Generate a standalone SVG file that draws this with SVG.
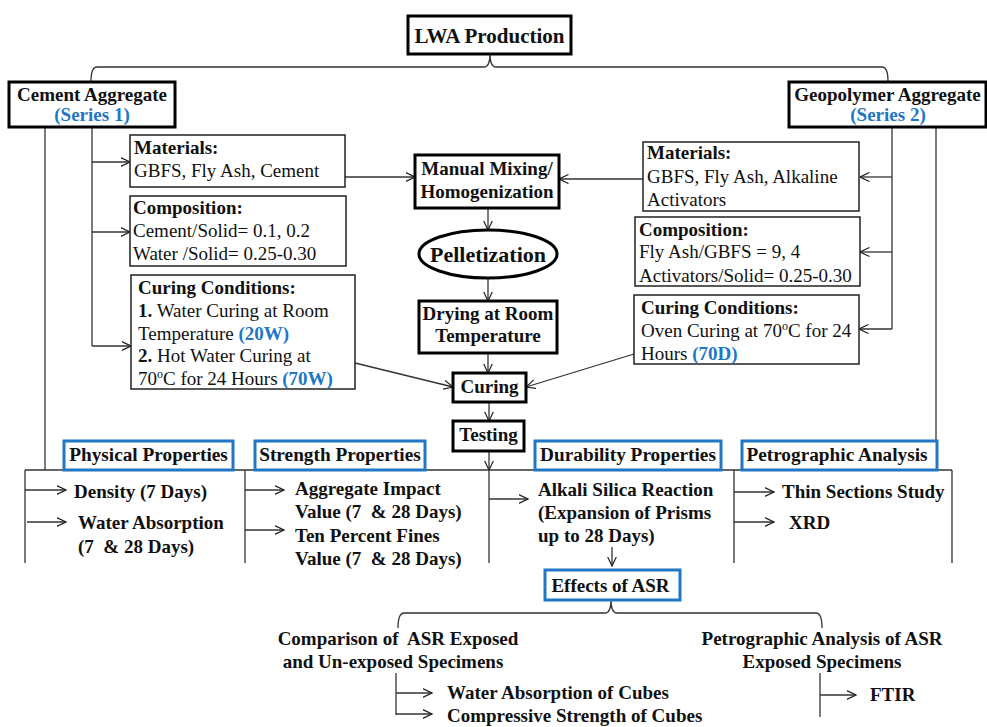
<svg xmlns="http://www.w3.org/2000/svg" width="987" height="727" viewBox="0 0 987 727">
<style>
text{font-family:"Liberation Serif","Times New Roman",serif;fill:#111;}
.b{font-weight:bold;font-size:19px;}
.r{font-size:19px;}
.h{font-weight:bold;font-size:19px;}
.hd{font-weight:bold;font-size:19.3px;text-anchor:middle;}
.c{text-anchor:middle;}
.bl{fill:#1f77c5;font-weight:bold;}
.thick{fill:#fff;stroke:#000;stroke-width:3;}
.thin{fill:#fff;stroke:#222;stroke-width:1.5;}
.bbox{fill:#fff;stroke:#1f77c5;stroke-width:3;}
.ln{fill:none;stroke:#333;stroke-width:1.3;}
.ar{marker-end:url(#ah);}
</style>
<defs>
<marker id="ah" viewBox="0 0 10 10" refX="9.5" refY="5" markerWidth="10" markerHeight="10" markerUnits="userSpaceOnUse" orient="auto">
<path d="M0,0.5 L9.5,5 L0,9.5" fill="none" stroke="#222" stroke-width="1.2"/>
</marker>
</defs>
<rect width="987" height="727" fill="#fff"/>

<g id="connectors">
<path class="ln" d="M91,81 Q91,67 97,67 L484,67 Q490,67 490,54 Q490,67 496,67 L882,67 Q888,67 888,81"/>
<path class="ln" d="M45,127 V470"/>
<path class="ln" d="M92,127 V346"/>
<path class="ln ar" d="M92,162 H130"/>
<path class="ln ar" d="M92,232 H130"/>
<path class="ln ar" d="M92,346 H131"/>
<path class="ln" d="M892,127 V329"/>
<path class="ln ar" d="M892,177 H860"/>
<path class="ln ar" d="M892,252 H860"/>
<path class="ln ar" d="M892,329 H859"/>
<path class="ln" d="M936,127 V441"/>
<path class="ln ar" d="M345,177 H415"/>
<path class="ln ar" d="M643,179 H559"/>
<path class="ln ar" d="M488,208 V230"/>
<path class="ln ar" d="M488,278 V301"/>
<path class="ln ar" d="M488,353 V373"/>
<path class="ln ar" d="M355,363 L453,387"/>
<path class="ln ar" d="M634,354 L526,387"/>
<path class="ln ar" d="M489,402 V421"/>
<path class="ln ar" d="M489,451 V470"/>
<path class="ln" d="M25,470 H952"/>
<path class="ln" d="M25,470 V563 M245,470 V563 M489,470 V563 M734,470 V563 M952,470 V563"/>
<path class="ln ar" d="M25,490 H66"/>
<path class="ln ar" d="M27,522 H66"/>
<path class="ln ar" d="M245,490 H284"/>
<path class="ln ar" d="M245,530 H284"/>
<path class="ln ar" d="M489,499 H528"/>
<path class="ln ar" d="M734,492 H774"/>
<path class="ln ar" d="M734,522 H774"/>
<path class="ln ar" d="M612,547 V566"/>
<path class="ln" d="M398,628 Q398,613 404,613 L605,613 Q611,613 611,600 Q611,613 617,613 L816,613 Q822,613 822,628"/>
<path class="ln" d="M396,673 V715"/>
<path class="ln ar" d="M396,693 H432"/>
<path class="ln ar" d="M396,714 H432"/>
<path class="ln" d="M820,673 V717"/>
<path class="ln ar" d="M820,695 H856"/>
</g>

<g id="lwa">
<rect class="thick" x="408" y="16" width="163" height="38"/>
<text class="b c" x="489.5" y="43" style="font-size:21px">LWA Production</text>
</g>

<g id="cement-aggregate">
<rect class="thick" x="9" y="82" width="166" height="45"/>
<text class="h c" x="92" y="101">Cement Aggregate</text>
<text class="h c bl" x="92" y="121">(Series 1)</text>
</g>

<g id="geopolymer-aggregate">
<rect class="thick" x="789" y="82" width="197" height="45"/>
<text class="h c" x="887.5" y="101">Geopolymer Aggregate</text>
<text class="h c bl" x="888" y="121">(Series 2)</text>
</g>

<g id="materials-1">
<rect class="thin" x="130" y="135" width="215" height="52"/>
<text class="b" x="134" y="154">Materials:</text>
<text class="r" x="134" y="177">GBFS, Fly Ash, Cement</text>
</g>

<g id="composition-1">
<rect class="thin" x="130" y="196" width="216" height="70"/>
<text class="b" x="133" y="214">Composition:</text>
<text class="r" x="133" y="237">Cement/Solid= 0.1, 0.2</text>
<text class="r" x="133" y="260">Water /Solid= 0.25-0.30</text>
</g>

<g id="curing-1">
<rect class="thin" x="131" y="275" width="224" height="114"/>
<text class="b" x="138" y="294">Curing Conditions:</text>
<text class="r" x="138" y="317"><tspan font-weight="bold">1.</tspan> Water Curing at Room</text>
<text class="r" x="138" y="340">Temperature <tspan class="bl">(20W)</tspan></text>
<text class="r" x="138" y="362"><tspan font-weight="bold">2.</tspan> Hot Water Curing at</text>
<text class="r" x="138" y="385">70<tspan font-size="12" dy="-7">o</tspan><tspan dy="7">C for 24 Hours </tspan><tspan class="bl">(70W)</tspan></text>
</g>

<g id="materials-2">
<rect class="thin" x="643" y="142" width="216" height="69"/>
<text class="b" x="647" y="159">Materials:</text>
<text class="r" x="647" y="183">GBFS, Fly Ash, Alkaline</text>
<text class="r" x="647" y="206">Activators</text>
</g>

<g id="composition-2">
<rect class="thin" x="635" y="217" width="225" height="69"/>
<text class="b" x="639" y="236">Composition:</text>
<text class="r" x="639" y="258">Fly Ash/GBFS = 9, 4</text>
<text class="r" x="639" y="282">Activators/Solid= 0.25-0.30</text>
</g>

<g id="curing-2">
<rect class="thin" x="634" y="295" width="225" height="69"/>
<text class="b" x="641" y="314">Curing Conditions:</text>
<text class="r" x="641" y="337">Oven Curing at 70<tspan font-size="12" dy="-7">o</tspan><tspan dy="7">C for 24</tspan></text>
<text class="r" x="641" y="360">Hours <tspan class="bl">(70D)</tspan></text>
</g>

<g id="mixing">
<rect class="thick" x="415" y="155" width="144" height="53"/>
<text class="b c" x="487" y="175">Manual Mixing/</text>
<text class="b c" x="487" y="198">Homogenization</text>
</g>

<g id="pelletization">
<ellipse class="thick" cx="488" cy="254" rx="69" ry="24"/>
<text class="b c" x="488" y="262" style="font-size:22px">Pelletization</text>
</g>

<g id="drying">
<rect class="thick" x="419" y="301" width="138" height="52"/>
<text class="b c" x="488" y="320">Drying at Room</text>
<text class="b c" x="488" y="342">Temperature</text>
</g>

<g id="curing">
<rect class="thick" x="453" y="373" width="73" height="29"/>
<text class="b c" x="489.5" y="393">Curing</text>
</g>

<g id="testing">
<rect class="thick" x="453" y="421" width="71" height="30"/>
<text class="b c" x="488.5" y="441">Testing</text>
</g>

<g id="physical">
<rect class="bbox" x="64" y="441" width="169" height="29"/>
<text class="hd" x="148.5" y="461">Physical Properties</text>
<text class="b" x="74" y="498">Density (7 Days)</text>
<text class="b" x="78" y="529">Water Absorption</text>
<text class="b" x="78" y="553" xml:space="preserve">(7  &amp; 28 Days)</text>
</g>

<g id="strength">
<rect class="bbox" x="255" y="441" width="170" height="29"/>
<text class="hd" x="340" y="461">Strength Properties</text>
<text class="b" x="295" y="495">Aggregate Impact</text>
<text class="b" x="295" y="518" xml:space="preserve">Value (7  &amp; 28 Days)</text>
<text class="b" x="295" y="542">Ten Percent Fines</text>
<text class="b" x="295" y="565" xml:space="preserve">Value (7  &amp; 28 Days)</text>
</g>

<g id="durability">
<rect class="bbox" x="535" y="441" width="186" height="29"/>
<text class="hd" x="628" y="461">Durability Properties</text>
<text class="b" x="538" y="496">Alkali Silica Reaction</text>
<text class="b" x="538" y="519">(Expansion of Prisms</text>
<text class="b" x="538" y="542">up to 28 Days)</text>
</g>

<g id="petrographic">
<rect class="bbox" x="742" y="441" width="195" height="29"/>
<text class="hd" x="837" y="461">Petrographic Analysis</text>
<text class="b" x="782" y="498">Thin Sections Study</text>
<text class="b" x="789" y="529">XRD</text>
</g>

<g id="effects">
<rect class="bbox" x="545" y="570" width="135" height="30"/>
<text class="b c" x="610.5" y="592">Effects of ASR</text>
</g>

<g id="comparison">
<text class="b c" x="398" y="645" xml:space="preserve">Comparison of  ASR Exposed</text>
<text class="b c" x="393" y="668">and Un-exposed Specimens</text>
<text class="b" x="447" y="699">Water Absorption of Cubes</text>
<text class="b" x="447" y="722">Compressive Strength of Cubes</text>
</g>

<g id="petro-asr">
<text class="b c" x="822" y="645">Petrographic Analysis of ASR</text>
<text class="b c" x="822" y="668">Exposed Specimens</text>
<text class="b" x="870" y="701">FTIR</text>
</g>
</svg>
